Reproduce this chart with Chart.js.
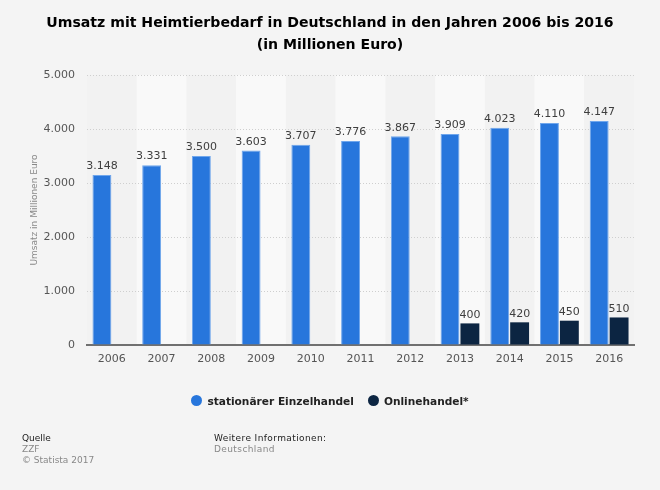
<!DOCTYPE html>
<html><head><meta charset="utf-8">
<script src="https://cdn.jsdelivr.net/npm/chart.js@4/dist/chart.umd.min.js"></script>
<style>
html,body{margin:0;padding:0;background:#f4f4f4;width:660px;height:490px;overflow:hidden;font-family:"DejaVu Sans",sans-serif;}
#wrap{position:absolute;left:0;top:0;width:660px;height:490px;}
#title{position:absolute;left:0;top:11px;width:660px;text-align:center;font-weight:bold;font-size:14.1px;line-height:22px;color:#000;}
#legend{position:absolute;left:0;top:394px;width:660px;text-align:center;font-size:10.6px;font-weight:bold;color:#222;}
#legend span.item{display:inline-block;margin:0 7px;vertical-align:middle;}
#legend i{display:inline-block;width:11px;height:11px;border-radius:50%;vertical-align:-1px;margin-right:5px;}
.foot{position:absolute;font-size:9px;line-height:11px;}
.foot b{font-weight:normal;color:#222;}
.foot span{color:#888;}
</style></head>
<body>
<div id="wrap"><canvas id="c" width="660" height="490"></canvas></div>
<div id="title">Umsatz mit Heimtierbedarf in Deutschland in den Jahren 2006 bis 2016<br>(in Millionen Euro)</div>
<div id="legend"><span class="item"><i style="background:#2776dc"></i>stationärer Einzelhandel</span><span class="item"><i style="background:#0c2542"></i>Onlinehandel*</span></div>
<div class="foot" style="left:22px;top:433px;"><b>Quelle</b><br><span>ZZF<br>© Statista 2017</span></div>
<div class="foot" style="left:214px;top:433px;letter-spacing:0.4px;"><b>Weitere Informationen:</b><br><span>Deutschland</span></div>
<script>
const categories = ["2006","2007","2008","2009","2010","2011","2012","2013","2014","2015","2016"];
const stationaer = [3148,3331,3500,3603,3707,3776,3867,3909,4023,4110,4147];
const online = [null,null,null,null,null,null,null,400,420,450,510];
const yTicks = [0,1000,2000,3000,4000,5000];

function fmt(v){return String(v).replace(/\B(?=(\d{3})+(?!\d))/g,'.');}

const bandPlugin = {
  id:'bands',
  beforeDraw(chart){
    const {ctx, chartArea} = chart;
    const w = (chartArea.right-chartArea.left)/categories.length;
    ctx.save();
    for(let i=0;i<categories.length;i++){
      ctx.fillStyle = (i%2===1) ? '#f9f9f9' : '#f2f2f2';
      ctx.fillRect(chartArea.left+i*w, chartArea.top, w, chartArea.bottom-chartArea.top);
    }
    ctx.restore();
  }
};
const labelPlugin = {
  id:'vals',
  afterDatasetsDraw(chart){
    const {ctx} = chart;
    ctx.save();
    ctx.font = '11px "DejaVu Sans"';
    ctx.fillStyle = '#3e3e3e';
    ctx.textAlign = 'center';
    ctx.textBaseline = 'bottom';
    chart.data.datasets.forEach((ds,di)=>{
      const meta = chart.getDatasetMeta(di);
      meta.data.forEach((el,i)=>{
        const v = ds.data[i];
        if(v==null) return;
        ctx.fillText(fmt(v), el.x, el.y-3);
      });
    });
    ctx.restore();
  }
};

new Chart(document.getElementById('c'),{
  type:'bar',
  data:{
    labels:categories,
    datasets:[
      {label:'stationärer Einzelhandel',data:stationaer,backgroundColor:'#2776dc',borderColor:'#6fa6ec',borderWidth:{top:1,left:1,right:1,bottom:0},categoryPercentage:0.8,barPercentage:0.95},
      {label:'Onlinehandel*',data:online,backgroundColor:'#0c2542',borderColor:'#0c2542',borderWidth:0,categoryPercentage:0.8,barPercentage:0.95}
    ]
  },
  options:{
    responsive:false,
    animation:false,
    devicePixelRatio:1,
    layout:{padding:{left:0,right:26,top:75,bottom:115}},
    plugins:{legend:{display:false},tooltip:{enabled:false},title:{display:false}},
    scales:{
      x:{
        grid:{display:false,drawTicks:false},
        border:{display:true,color:'#707070',width:2},
        ticks:{color:'#555',font:{family:'DejaVu Sans',size:11},padding:8,maxRotation:0},
        afterFit(s){s.height=30;}
      },
      y:{
        min:0,max:5000,
        afterBuildTicks(s){s.ticks = yTicks.map(v=>({value:v}));},
        grid:{color:'#cfcfcf',drawTicks:false,lineWidth:1},
        border:{display:false,dash:[1,2]},
        ticks:{color:'#555',font:{family:'DejaVu Sans',size:11},padding:12,callback:v=>fmt(v)},
        title:{display:true,text:'Umsatz in Millionen Euro',color:'#888',font:{family:'DejaVu Sans',size:9},padding:{top:29,bottom:0}},
        afterFit(s){s.width=87;}
      }
    }
  },
  plugins:[bandPlugin,labelPlugin]
});
</script>
</body></html>
